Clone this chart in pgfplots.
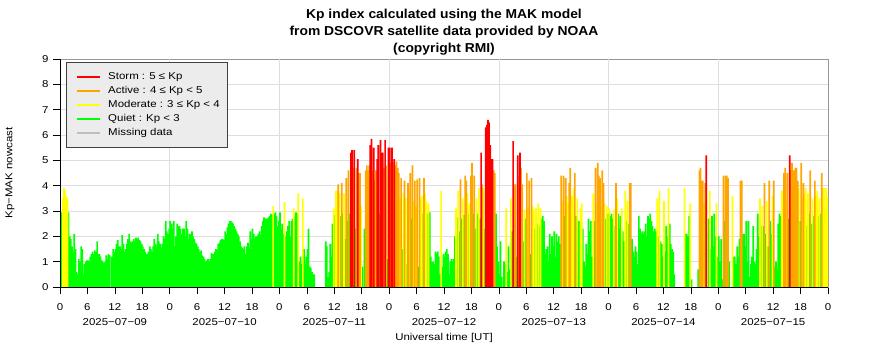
\documentclass[border=0pt]{standalone}
\usepackage{fontspec}
\setmainfont{Liberation Sans}
\newfontfamily\labfont{Liberation Sans}[FakeStretch=1.15]
\newfontfamily\ttlfont{Liberation Sans}[FakeStretch=1.07]
\usepackage{pgfplots}
\usepackage{pgfplotstable}
\pgfplotsset{compat=1.18}
\definecolor{kpred}{RGB}{255,0,0}
\definecolor{kporange}{RGB}{255,165,0}
\definecolor{kpyellow}{RGB}{255,255,0}
\definecolor{kpgreen}{RGB}{0,255,0}
\definecolor{kpgray}{RGB}{190,190,190}
\definecolor{gridgray}{RGB}{222,222,222}
\definecolor{framegray}{RGB}{150,150,150}
\definecolor{legendfill}{RGB}{236,236,236}

% t = start of 30-min slot (hours since 2025-07-09 00 UT); a, b = the two 15-min values
\pgfplotstableread{
t a b
0.0 2.9 2.95
0.5 3.5 3.9
1.0 3.8 3.6
1.5 3.5 2.95
2.0 2.0 1.9
2.5 1.6 1.4
3.0 2.1 1.5
3.5 0.6 0.5
4.0 1.1 1.0
4.5 1.6 1.5
5.0 0.5 0.9
5.5 1.0 1.05
6.0 1.05 1.0
6.5 1.2 1.3
7.0 1.4 1.3
7.5 1.45 1.4
8.0 1.8 1.3
8.5 1.3 1.2
9.0 1.05 1.0
9.5 0.95 1.0
10.0 1.25 1.1
10.5 1.3 1.25
11.0 nan 1.2
11.5 1.5 1.4
12.0 1.5 1.7
12.5 1.85 1.6
13.0 1.6 1.5
13.5 2.05 1.7
14.0 1.4 1.5
14.5 1.7 1.9
15.0 2.1 1.8
15.5 1.75 1.8
16.0 1.9 1.8
16.5 1.95 1.9
17.0 1.95 1.85
17.5 1.8 1.7
18.0 1.6 1.5
18.5 1.4 1.3
19.0 1.3 1.4
19.5 1.6 1.5
20.0 1.4 1.6
20.5 1.9 1.7
21.0 1.6 2.1
21.5 1.8 1.7
22.0 1.55 1.7
22.5 2.0 1.9
23.0 2.6 2.2
23.5 2.1 2.3
24.0 2.6 2.5
24.5 2.3 2.6
25.0 1.6 2.0
25.5 2.5 2.4
26.0 2.4 2.3
26.5 2.1 2.3
27.0 2.3 2.0
27.5 2.6 2.3
28.0 1.9 2.1
28.5 2.1 2.2
29.0 2.0 1.9
29.5 1.75 1.7
30.0 1.6 1.5
30.5 1.4 1.45
31.0 1.25 1.2
31.5 1.1 1.0
32.0 1.05 1.1
32.5 1.0 1.1
33.0 1.35 1.3
33.5 1.3 1.4
34.0 1.5 1.45
34.5 1.7 1.75
35.0 1.85 1.9
35.5 1.9 1.85
36.0 2.2 2.1
36.5 2.35 2.5
37.0 2.6 2.6
37.5 2.55 2.5
38.0 2.4 2.3
38.5 2.2 2.1
39.0 2.0 1.8
39.5 1.6 1.55
40.0 1.5 1.6
40.5 1.3 1.6
41.0 1.75 1.5
41.5 2.2 1.9
42.0 2.3 2.1
42.5 1.9 2.0
43.0 2.0 2.1
43.5 2.2 2.05
44.0 2.4 2.6
44.5 2.75 2.7
45.0 2.7 2.7
45.5 2.75 2.8
46.0 2.9 2.85
46.5 3.2 2.9
47.0 2.95 2.8
47.5 2.4 2.6
48.0 2.95 2.3
48.5 2.5 2.1
49.0 3.35 2.0
49.5 2.2 2.4
50.0 2.6 2.0
50.5 2.6 2.7
51.0 3.1 2.8
51.5 2.95 2.9
52.0 3.7 1.0
52.5 1.2 0.9
53.0 3.5 1.5
53.5 0.9 1.2
54.0 1.5 2.3
54.5 0.8 0.75
55.0 0.6 0.5
55.5 0.5 nan
56.0 nan nan
56.5 nan nan
57.0 nan nan
57.5 nan nan
58.0 1.8 1.6
58.5 0.4 0.6
59.0 1.7 1.2
59.5 2.5 3.1
60.0 2.85 3.8
60.5 3.8 4.05
61.0 3.7 2.8
61.5 4.1 2.9
62.0 3.7 1.9
62.5 4.3 2.6
63.0 4.6 2.9
63.5 5.3 5.4
64.0 4.7 5.4
64.5 2.3 4.7
65.0 5.05 4.5
65.5 4.5 3.2
66.0 0.8 nan
66.5 2.3 4.6
67.0 4.8 4.6
67.5 4.8 5.6
68.0 5.85 4.6
68.5 5.5 4.2
69.0 4.6 5.05
69.5 5.6 2.9
70.0 5.8 5.3
70.5 5.3 4.7
71.0 5.8 4.8
71.5 1.1 5.5
72.0 5.5 4.9
72.5 5.5 4.9
73.0 5.05 4.8
73.5 4.95 4.7
74.0 4.5 3.5
74.5 4.3 1.5
75.0 3.7 4.2
75.5 3.5 0.9
76.0 4.1 3.9
76.5 4.5 2.7
77.0 4.8 3.4
77.5 4.2 3.2
78.0 4.25 0.8
78.5 4.3 3.5
79.0 3.6 2.9
79.5 4.3 3.7
80.0 3.4 2.9
80.5 3.3 2.95
81.0 1.2 1.0
81.5 1.0 0.9
82.0 1.4 1.3
82.5 1.4 1.2
83.0 0.5 3.8
83.5 0.8 1.3
84.0 1.2 1.4
84.5 1.5 1.3
85.0 0.5 1.0
85.5 1.1 1.0
86.0 1.1 2.0
86.5 3.1 2.75
87.0 3.8 2.2
87.5 4.25 2.7
88.0 3.5 2.85
88.5 4.4 4.2
89.0 3.7 2.9
89.5 3.3 4.4
90.0 4.9 2.9
90.5 4.4 2.3
91.0 3.5 2.9
91.5 3.9 2.7
92.0 5.3 4.05
92.5 3.9 2.3
93.0 6.3 6.4
93.5 6.6 6.5
94.0 5.6 5.05
94.5 5.05 4.6
95.0 4.5 2.9
95.5 1.6 1.0
96.0 0.5 1.8
96.5 0.4 nan
97.0 1.0 0.9
97.5 3.1 0.6
98.0 1.6 0.7
98.5 3.5 2.2
99.0 5.76 4.05
99.5 4.05 1.2
100.0 5.2 4.4
100.5 5.3 4.7
101.0 4.05 1.8
101.5 3.05 2.7
102.0 4.5 3.1
102.5 4.2 1.3
103.0 4.3 3.2
103.5 3.05 2.3
104.0 3.1 2.5
104.5 3.3 2.4
105.0 3.1 2.7
105.5 2.8 2.6
106.0 1.3 1.5
106.5 1.6 1.0
107.0 2.1 1.3
107.5 2.0 1.6
108.0 2.2 1.2
108.5 2.1 1.8
109.0 2.0 1.7
109.5 4.4 3.4
110.0 4.4 2.8
110.5 4.3 3.6
111.0 3.3 4.1
111.5 4.7 3.6
112.0 3.5 3.9
112.5 4.5 2.8
113.0 3.5 2.6
113.5 2.6 3.1
114.0 3.3 2.3
114.5 1.0 0.8
115.0 1.7 1.3
115.5 2.7 2.2
116.0 2.6 1.2
116.5 3.7 2.6
117.0 4.7 3.3
117.5 4.9 4.4
118.0 4.3 3.2
118.5 4.6 4.1
119.0 3.3 2.7
119.5 3.2 2.9
120.0 3.1 2.8
120.5 2.9 2.7
121.0 3.05 2.4
121.5 4.1 3.5
122.0 2.9 2.3
122.5 2.8 3.1
123.0 2.2 1.8
123.5 3.8 2.6
124.0 3.4 2.5
124.5 4.1 4.1
125.0 1.9 1.4
125.5 1.2 1.6
126.0 1.4 0.9
126.5 2.8 2.3
127.0 2.1 2.2
127.5 2.1 2.2
128.0 2.5 2.0
128.5 2.8 2.7
129.0 2.9 2.6
129.5 2.4 2.2
130.0 2.3 2.2
130.5 3.5 2.0
131.0 3.8 1.8
131.5 1.7 1.2
132.0 3.4 1.4
132.5 2.4 2.0
133.0 3.9 2.5
133.5 1.7 1.5
134.0 1.4 0.5
134.5 nan nan
135.0 nan nan
135.5 nan nan
136.0 nan nan
136.5 3.9 2.1
137.0 2.1 2.0
137.5 2.8 3.3
138.0 0.3 nan
138.5 nan nan
139.0 nan nan
139.5 0.7 4.6
140.0 4.7 4.2
140.5 4.2 3.3
141.0 4.1 5.2
141.5 nan 2.7
142.0 3.8 1.5
142.5 2.8 1.6
143.0 2.9 2.0
143.5 3.3 1.2
144.0 2.0 1.0
144.5 1.9 0.3
145.0 4.4 2.6
145.5 4.4 4.4
146.0 4.3 1.0
146.5 nan nan
147.0 3.6 1.2
147.5 1.2 0.9
148.0 1.6 1.2
148.5 1.9 4.2
149.0 4.2 2.1
149.5 2.1 1.6
150.0 2.6 1.0
150.5 2.6 0.4
151.0 0.9 1.2
151.5 2.4 1.0
152.0 0.9 1.5
152.5 2.9 2.0
153.0 3.5 2.4
153.5 3.2 2.4
154.0 4.1 2.1
154.5 3.4 1.6
155.0 4.2 2.6
155.5 2.1 3.6
156.0 4.2 0.8
156.5 1.0 0.7
157.0 2.5 2.9
157.5 2.8 3.8
158.0 3.8 4.5
158.5 4.7 3.5
159.0 4.5 2.7
159.5 5.2 4.6
160.0 4.9 4.6
160.5 4.6 4.7
161.0 4.7 4.2
161.5 3.9 2.6
162.0 4.9 3.5
162.5 4.1 3.7
163.0 3.9 2.4
163.5 3.7 2.9
164.0 4.6 2.5
164.5 3.5 2.8
165.0 4.2 3.6
165.5 3.8 2.8
166.0 3.5 2.9
166.5 4.5 3.9
167.0 3.9 3.05
167.5 3.9 3.6
}\kpdata

\begin{document}
\begin{tikzpicture}
\path[use as bounding box] (-60bp,-73bp) rectangle (826bp,287bp);
\begin{axis}[
  name=ax,
  scale only axis,
  width=768bp, height=228bp,
  xmin=0, xmax=168, ymin=0, ymax=9,
  axis line style={framegray, line width=0.8pt},
  tick align=outside,
  xtick pos=bottom, ytick pos=left,
  major tick length=7bp,
  tick style={black, line width=0.6pt},
  xtick={0,6,...,168},
  xticklabels={0,6,{12\\2025−07−09},18,0,6,{12\\2025−07−10},18,0,6,{12\\2025−07−11},18,0,6,{12\\2025−07−12},18,0,6,{12\\2025−07−13},18,0,6,{12\\2025−07−14},18,0,6,{12\\2025−07−15},18,0},
  xticklabel style={align=center, font=\labfont\fontsize{10}{15.5}\selectfont, yshift=-6bp},
  ytick={0,1,...,9},
  yticklabel style={font=\labfont\fontsize{10}{12}\selectfont, xshift=-1bp},
  /pgf/number format/assume math mode=true,
  ymajorgrids, major grid style={gridgray, line width=0.6pt},
  extra x ticks={24,48,72,96,120,144},
  extra x tick labels={},
  extra x tick style={xmajorgrids=true, major tick length=0pt},
  title={Kp index calculated using the MAK model\\from DSCOVR satellite data provided by NOAA\\(copyright RMI)},
  title style={font=\ttlfont\bfseries\fontsize{13}{17}\selectfont, align=center, at={(axis description cs:0.5,1.091)}, anchor=center},
  xlabel={Universal time [UT]},
  xlabel style={font=\labfont\fontsize{10}{12}\selectfont, at={(axis description cs:0.5,-0.2237)}, anchor=center},
  ylabel={Kp−MAK nowcast},
  ylabel style={font=\labfont\fontsize{10}{12}\selectfont, at={(axis description cs:-0.0651,0.5)}, anchor=center},
  legend cell align=left,
  legend image code/.code={\path[draw=none, fill=none] (0bp,-1bp) rectangle (28bp,1bp); \path[draw=none, #1] (5bp,-1bp) rectangle (28bp,1bp);},
  legend style={at={(rel axis cs:0,1)}, anchor=north west, xshift=6bp, yshift=-3bp,
    fill=legendfill, draw=black!75, line width=0.5pt,
    font=\labfont\fontsize{10}{12}\selectfont,
    inner xsep=6bp, inner ysep=8.2bp, row sep=1.4bp, column sep=6bp},
]
\addlegendimage{fill=kpred}\addlegendentry{Storm : 5 ≤ Kp}
\addlegendimage{fill=kporange}\addlegendentry{Active : 4 ≤ Kp < 5}
\addlegendimage{fill=kpyellow}\addlegendentry{Moderate : 3 ≤ Kp < 4}
\addlegendimage{fill=kpgreen}\addlegendentry{Quiet : Kp < 3}
\addlegendimage{fill=kpgray}\addlegendentry{Missing data}

\pgfplotsset{kpbar/.style={ybar, bar width=1.7bp, draw=none, forget plot}}
\addplot[kpbar, bar shift=0.5714bp, fill=kpgreen, restrict y to domain=0:2.9999] table[x=t, y=a] {\kpdata};
\addplot[kpbar, bar shift=1.7143bp, fill=kpgreen, restrict y to domain=0:2.9999] table[x=t, y=b] {\kpdata};
\addplot[kpbar, bar shift=0.5714bp, fill=kpyellow, restrict y to domain=3:3.9999] table[x=t, y=a] {\kpdata};
\addplot[kpbar, bar shift=1.7143bp, fill=kpyellow, restrict y to domain=3:3.9999] table[x=t, y=b] {\kpdata};
\addplot[kpbar, bar shift=0.5714bp, fill=kporange, restrict y to domain=4:4.9999] table[x=t, y=a] {\kpdata};
\addplot[kpbar, bar shift=1.7143bp, fill=kporange, restrict y to domain=4:4.9999] table[x=t, y=b] {\kpdata};
\addplot[kpbar, bar shift=0.5714bp, fill=kpred, restrict y to domain=5:10] table[x=t, y=a] {\kpdata};
\addplot[kpbar, bar shift=1.7143bp, fill=kpred, restrict y to domain=5:10] table[x=t, y=b] {\kpdata};
\end{axis}
\draw[black, line width=0.8pt] (ax.north west) -- (ax.south west) -- (ax.south east);
\end{tikzpicture}
\end{document}
